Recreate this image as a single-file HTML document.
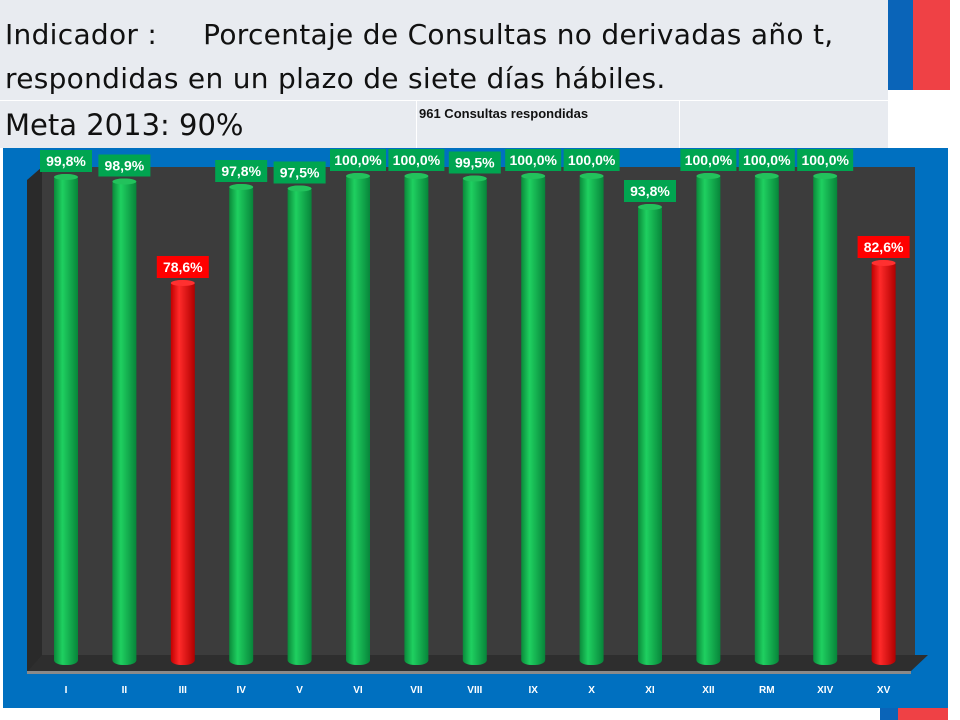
<!DOCTYPE html>
<html><head><meta charset="utf-8"><style>
body{margin:0;width:960px;height:720px;background:#fff;overflow:hidden;position:relative;font-family:"Liberation Sans",sans-serif}
.t{position:absolute;color:#111;font-family:"DejaVu Sans","Liberation Sans",sans-serif;white-space:nowrap}
</style></head><body>
<div style="position:absolute;left:0;top:0;width:888px;height:100px;background:#e8ebf0;border-bottom:1px solid #fff"></div>
<div style="position:absolute;left:0;top:101px;width:888px;height:47px;background:#e8ebf0"></div>
<div style="position:absolute;left:416px;top:101px;width:1px;height:47px;background:#fff"></div>
<div style="position:absolute;left:679px;top:101px;width:1px;height:47px;background:#fff"></div>
<div class="t" style="left:5px;top:18px;font-size:28px;letter-spacing:0.3px">Indicador :&nbsp;&nbsp;&nbsp;&nbsp; Porcentaje de Consultas no derivadas año t,</div>
<div class="t" style="left:5px;top:62px;font-size:28px;letter-spacing:0.3px">respondidas en un plazo de siete días hábiles.</div>
<div class="t" style="left:5px;top:108px;font-size:29px">Meta 2013: 90%</div>
<div class="t" style="left:419px;top:106px;font-size:13px;font-weight:bold;font-family:'Liberation Sans',sans-serif">961 Consultas respondidas</div>
<div style="position:absolute;left:888px;top:0;width:25px;height:90px;background:#0a64b8"></div>
<div style="position:absolute;left:913px;top:0;width:37px;height:90px;background:#ef4145"></div>
<div style="position:absolute;left:880px;top:708px;width:18px;height:12px;background:#0a64b8"></div>
<div style="position:absolute;left:898px;top:708px;width:50px;height:12px;background:#ef4145"></div>
<svg id="chart" width="960" height="720" style="position:absolute;left:0;top:0">
<defs>
<linearGradient id="gG" x1="0" x2="1"><stop offset="0" stop-color="#0a8a3a"/><stop offset="0.35" stop-color="#1fd060"/><stop offset="1" stop-color="#07853a"/></linearGradient>
<linearGradient id="gR" x1="0" x2="1"><stop offset="0" stop-color="#c00000"/><stop offset="0.35" stop-color="#ff2a2a"/><stop offset="1" stop-color="#b00000"/></linearGradient>
</defs>
<rect x="3" y="148" width="945" height="560" fill="#0070c0"/>
<polygon points="27,180 42,167 42,662 27,672" fill="#2a2a2a"/>
<rect x="42" y="167" width="873" height="495" fill="#3c3c3c"/>
<polygon points="27,672 42,655 928,655 910,672" fill="#2e2e2e"/>
<rect x="27" y="671" width="884" height="3" fill="#8a8a8a"/>
<g id="bars"></g>
</svg>
<script>
const categories=["I","II","III","IV","V","VI","VII","VIII","IX","X","XI","XII","RM","XIV","XV"];
const values=[99.8,98.9,78.6,97.8,97.5,100,100,99.5,100,100,93.8,100,100,100,82.6];
const labels=["99,8%","98,9%","78,6%","97,8%","97,5%","100,0%","100,0%","99,5%","100,0%","100,0%","93,8%","100,0%","100,0%","100,0%","82,6%"];
const goal=90;
const NS="http://www.w3.org/2000/svg";
const g=document.getElementById('bars');
function xPos(i){return 66+i*58.4;}
function yPos(v){return 673-v*5;}
function mk(t,a){const e=document.createElementNS(NS,t);for(const k in a)e.setAttribute(k,a[k]);return e;}
categories.forEach((c,i)=>{
  const v=values[i],x=xPos(i),top=yPos(v),bot=665,w=24;
  const red=v<goal;
  const bar=mk('rect',{x:x-w/2,y:top,width:w,height:bot-top,rx:10,ry:5,fill:red?'url(#gR)':'url(#gG)'});
  
  
  g.appendChild(bar);
  const cap=mk('ellipse',{cx:x,cy:top+3,rx:w/2,ry:3,fill:red?'#ff3030':'#22c25c'});
  
  
  g.appendChild(cap);
  const lw=labels[i].length>5?56:52;
  const lb=mk('rect',{x:x-lw/2,y:top-24,width:lw,height:22,fill:red?'#ff0000':'#00a550'});
  
  
  g.appendChild(lb);
  const lt=mk('text',{x:x,y:top-8,'text-anchor':'middle','font-size':'14','font-weight':'bold',fill:'#fff','font-family':'Liberation Sans, sans-serif'});
  lt.textContent=labels[i];
  
  
  g.appendChild(lt);
  const ct=mk('text',{x:x,y:693,'text-anchor':'middle','font-size':'10','font-weight':'bold',fill:'#fff','font-family':'Liberation Sans, sans-serif'});
  ct.textContent=c;
  
  
  g.appendChild(ct);
});
</script>
</body></html>
